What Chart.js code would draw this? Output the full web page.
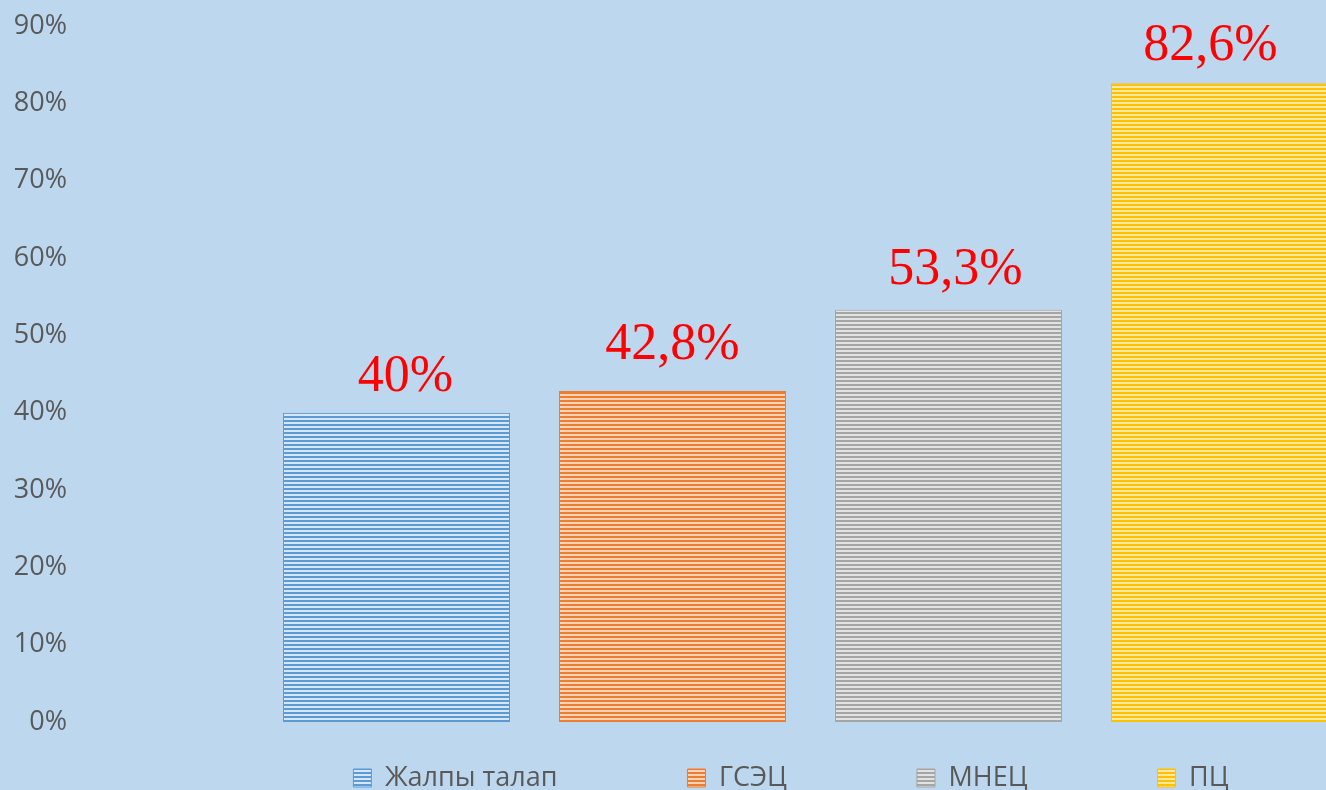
<!DOCTYPE html>
<html>
<head>
<meta charset="utf-8">
<script src="https://cdn.jsdelivr.net/npm/chart.js@4.4.1/dist/chart.umd.min.js"></script>
<style>
  html, body { margin: 0; padding: 0; overflow: hidden; background: #BDD7EE; }
  #wrap { position: absolute; left: 0; top: 0; width: 1541px; height: 790px; }
</style>
</head>
<body>
<div id="wrap"><canvas id="c" width="1541" height="790"></canvas></div>
<script>
// ---- data ----
const categories = [''];
const seriesNames = ['Жалпы талап', 'ГСЭЦ', 'МНЕЦ', 'ПЦ'];
const seriesValues = [40, 42.8, 53.3, 82.6];
const seriesDark = ['#5B9BD5', '#ED7D31', '#A5A5A5', '#FFC000'];
const seriesLight = ['#D6E6F5', '#F9D3B8', '#E2E2E2', '#FFE8A0'];
const yTicks = [0, 10, 20, 30, 40, 50, 60, 70, 80, 90];

const ctx = document.getElementById('c').getContext('2d');

function stripePattern(dark, light) {
  const p = document.createElement('canvas');
  p.width = 4; p.height = 4;
  const g = p.getContext('2d');
  g.fillStyle = light; g.fillRect(0, 0, 4, 4);
  g.fillStyle = dark; g.fillRect(0, 0, 4, 2);
  return ctx.createPattern(p, 'repeat');
}

const datasets = seriesNames.map((name, i) => ({
  label: name,
  data: [seriesValues[i]],
  backgroundColor: stripePattern(seriesDark[i], seriesLight[i]),
  borderColor: seriesDark[i],
  borderWidth: 1,
  categoryPercentage: 0.7556,
  barPercentage: 0.8225
}));

const LEGEND_PAD = 130;
const LEGEND_FONT = 27;

// manual label nudges (style only), as placed in the original
const labelNudgeX = [9, 0, 7, -14];
const labelGap = [22, 32, 26, 23];

const labelPlugin = {
  id: 'valueLabels',
  afterDatasetsDraw(chart) {
    const c = chart.ctx;
    c.save();
    c.font = '52px "Liberation Serif", "Times New Roman", serif';
    c.fillStyle = '#FF0000';
    c.textAlign = 'center';
    c.textBaseline = 'alphabetic';
    chart.data.datasets.forEach((ds, i) => {
      const meta = chart.getDatasetMeta(i);
      meta.data.forEach((bar, j) => {
        const v = ds.data[j];
        const txt = String(v).replace('.', ',') + '%';
        c.fillText(txt, bar.x + labelNudgeX[i], bar.y - labelGap[i]);
      });
    });
    c.restore();
  }
};

const legendPlacer = {
  id: 'legendPlacer',
  afterLayout(chart) {
    const lg = chart.legend;
    if (!lg) return;
    const centerY = 778;
    lg.top = centerY - LEGEND_PAD - LEGEND_FONT / 2;
    lg.bottom = 790;
    lg.height = lg.bottom - lg.top;
    const dx = 791 - (lg.left + lg.right) / 2;
    lg.left += dx; lg.right += dx;
  }
};

new Chart(ctx, {
  type: 'bar',
  data: { labels: categories, datasets },
  options: {
    responsive: false,
    animation: false,
    devicePixelRatio: 1,
    layout: { padding: { top: 26, right: 0, bottom: 0, left: 0 } },
    scales: {
      x: { display: false },
      y: {
        min: 0, max: 90,
        afterFit(scale) { scale.width = 80; scale.paddingTop = 0; scale.paddingBottom = 0; },
        afterBuildTicks(scale) { scale.ticks = yTicks.map(v => ({ value: v })); },
        grid: { display: false, drawTicks: false },
        border: { display: false },
        ticks: {
          padding: 13,
          color: '#595959',
          font: { family: '"Open Sans", sans-serif', size: 27 },
          callback: v => v + '%'
        }
      }
    },
    plugins: {
      legend: {
        position: 'bottom',
        maxHeight: 68,
        labels: {
          boxWidth: 18,
          boxHeight: 18,
          padding: LEGEND_PAD,
          color: '#595959',
          font: { family: '"Open Sans", sans-serif', size: LEGEND_FONT }
        }
      },
      tooltip: { enabled: false }
    }
  },
  plugins: [labelPlugin, legendPlacer]
});
</script>
</body>
</html>
